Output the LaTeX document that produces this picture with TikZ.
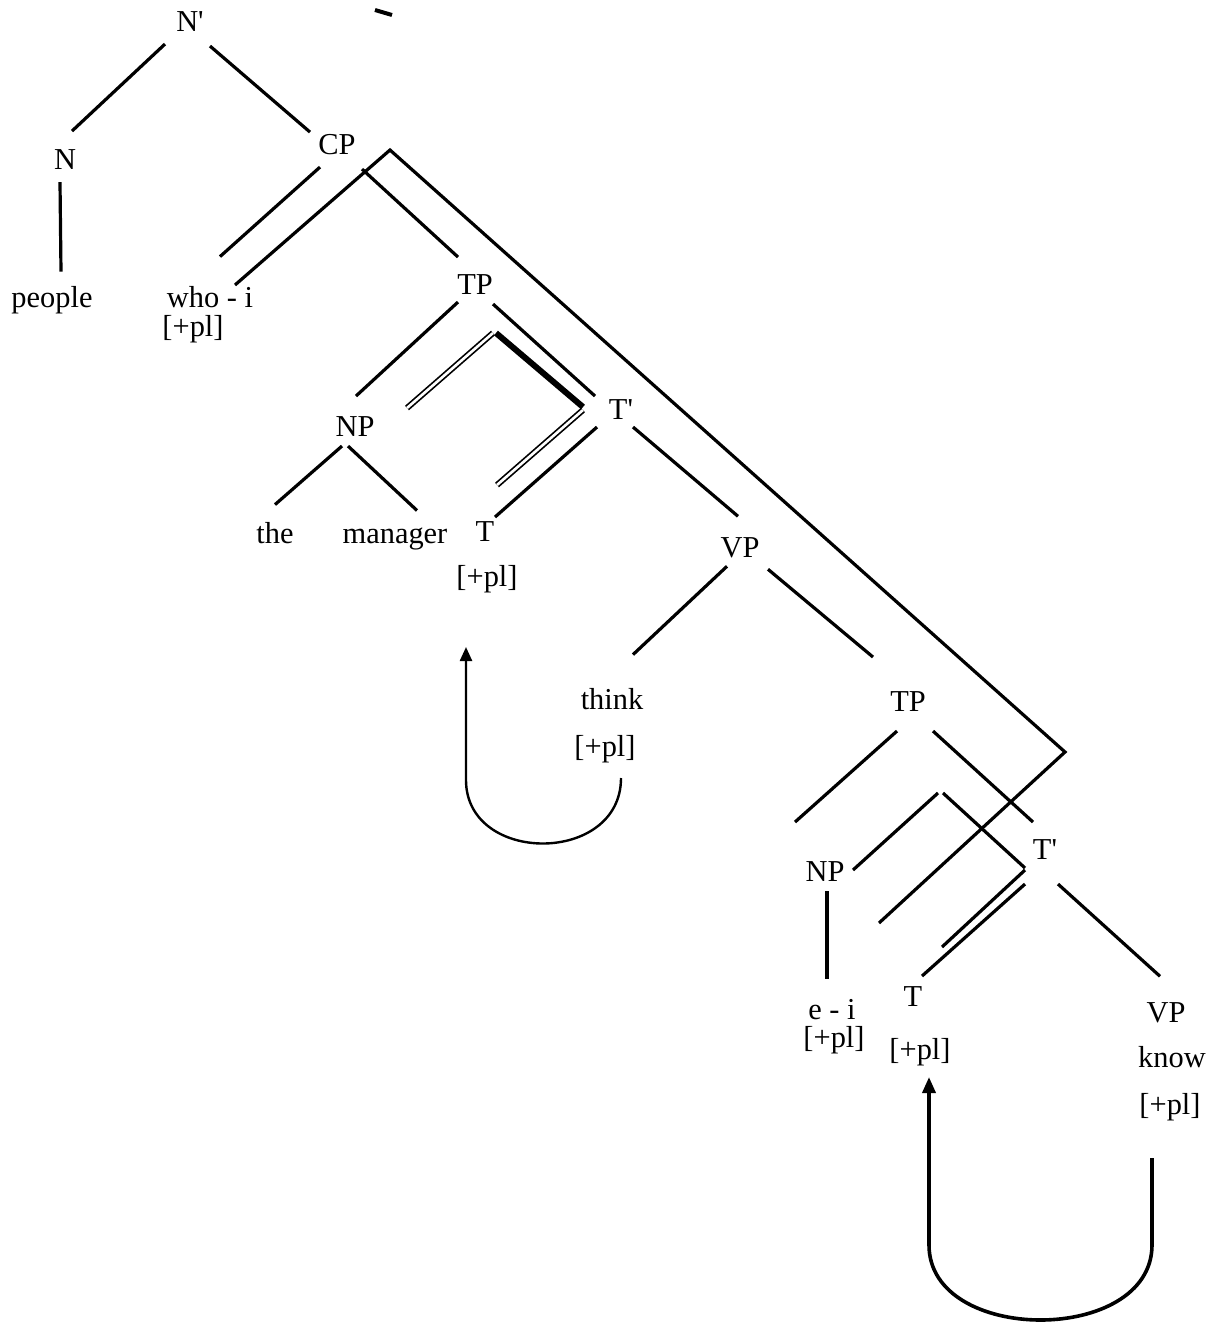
\documentclass[tikz,border=0pt]{standalone}
\usepackage{fontspec}
\setmainfont{Liberation Serif}
\usetikzlibrary{arrows.meta,calc}
\begin{document}
\begin{tikzpicture}[x=0.5pt,y=-0.5pt,
  lab/.style={inner sep=0pt, anchor=base, font=\fontsize{15.2}{16}\selectfont},
  edge/.style={line width=1.6pt},
  dbl/.style={double, double distance=1.3pt, line width=0.85pt},
  heavy/.style={line width=3pt},
  move/.style={line width=1.2pt, -{Triangle[length=7pt,width=6pt]}},
  movebig/.style={line width=1.8pt, -{Triangle[length=8pt,width=6.5pt]}}]
\useasboundingbox (0,0) rectangle (1215,1323);

% labels (positions are baselines)
\node[lab] (Nbar) at (190,31) {N\textquotesingle};
\node[lab] (N) at (65,169) {N};
\node[lab] (people) at (52,307) {people};
\node[lab] (CP) at (337,154) {CP};
\node[lab] (who) at (210,307) {who - i};
\node[lab] (whopl) at (193,336) {[+pl]};
\node[lab] (TP) at (475,294) {TP};
\node[lab] (NP) at (355,436) {NP};
\node[lab] (the) at (275,543) {the};
\node[lab] (manager) at (395,543) {manager};
\node[lab] (T) at (485,541) {T};
\node[lab] (Tpl) at (487,586) {[+pl]};
\node[lab] (Tbar) at (621,419) {T\textquotesingle};
\node[lab] (VP) at (740,557) {VP};
\node[lab] (think) at (612,709) {think};
\node[lab] (thinkpl) at (605,756) {[+pl]};
\node[lab] (TPb) at (908,711) {TP};
\node[lab] (NPb) at (825,881) {NP};
\node[lab] (Tbarb) at (1045,859) {T\textquotesingle};
\node[lab] (ei) at (832,1019) {e - i};
\node[lab] (eipl) at (834,1047) {[+pl]};
\node[lab] (Tb) at (913,1006) {T};
\node[lab] (Tbpl) at (920,1059) {[+pl]};
\node[lab] (VPb) at (1166,1022) {VP};
\node[lab] (know) at (1172,1067) {know};
\node[lab] (knowpl) at (1170,1114) {[+pl]};

% tree edges
\draw[edge] ($(Nbar)+(-25,23)$) -- ($(N)+(7,-28)$);
\draw[edge] ($(Nbar)+(20,25)$) -- ($(CP)+(-27,-12)$);
\draw[edge] ($(N)+(-5,23)$) -- ($(people)+(9,-28)$);
\draw[edge] ($(CP)+(-17,23)$) -- ($(who)+(10,-40)$);
\draw[edge] ($(CP)+(25,25)$) -- ($(TP)+(-17,-27)$);
\draw[edge] ($(TP)+(-17,18)$) -- ($(NP)+(1,-30)$);
\draw[edge] ($(TP)+(18,20)$) -- ($(Tbar)+(-26,-13)$);
\draw[edge] ($(Tbar)+(-24,18)$) -- ($(T)+(10,-14)$);
\draw[edge] ($(Tbar)+(12,18)$) -- ($(VP)+(-2,-31)$);
\draw[edge] ($(NP)+(-13,20)$) -- ($(the)+(0,-28)$);
\draw[edge] ($(NP)+(-7,20)$) -- ($(manager)+(22,-28)$);
\draw[edge] ($(VP)+(-13,19)$) -- ($(think)+(21,-44)$);
\draw[edge] ($(VP)+(28,22)$) -- ($(TPb)+(-35,-44)$);
\draw[edge] ($(TPb)+(-11,30)$) -- ($(NPb)+(-30,-49)$);
\draw[edge] ($(TPb)+(25,30)$) -- ($(Tbarb)+(-12,-27)$);
\draw[edge] ($(Tbarb)+(-20,35)$) -- ($(Tb)+(9,-20)$);
\draw[edge] ($(Tbarb)+(13,35)$) -- ($(VPb)+(-6,-36)$);
\draw[edge] ($(NPb)+(2,20)$) -- ($(ei)+(-5,-30)$);

% long path from CP region
\coordinate (pa) at (235,285);
\coordinate (pb) at (390,150);
\coordinate (pc) at (1065,752);
\coordinate (pd) at (879,923);
\draw[edge] (pa) -- (pb) -- (pc) -- (pd);

% first diamond
\coordinate (da) at (493,333);
\coordinate (db) at (407,408);
\coordinate (dc) at (583,407);
\coordinate (dd) at (497,485);
\draw[dbl] (da) -- (db);
\draw[heavy] ($(da)+(3,0)$) -- (dc);
\draw[dbl] ($(dc)+(0,3)$) -- (dd);

% second diamond
\coordinate (ea) at (940,793);
\coordinate (eb) at (853,870);
\coordinate (ec) at (1025,868);
\coordinate (ed) at (942,947);
\draw[edge] ($(ea)+(-2,0)$) -- (eb);
\draw[edge] ($(ea)+(3,0)$) -- (ec);
\draw[edge] ($(ec)+(0,2)$) -- (ed);

% arrows
\coordinate (a1s) at (621,778);
\coordinate (a1e) at (466,647);
\draw[move] (a1s) .. controls (621,865) and (466,865) .. (466,780) -- (a1e);
\coordinate (a2s) at (1152,1158);
\coordinate (a2e) at (929,1077);
\draw[movebig] (a2s) -- (1152,1245) .. controls (1152,1345) and (929,1345) .. (929,1245) -- (a2e);

% stray mark
\coordinate (sa) at (375,10);
\coordinate (sb) at (392,15);
\draw[line width=2pt] (sa) -- (sb);
\end{tikzpicture}
\end{document}
